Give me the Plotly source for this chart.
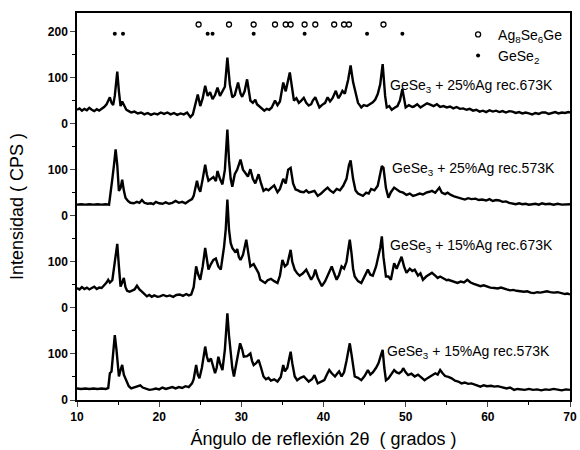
import plotly.graph_objects as go

# ---------------- data (2theta in degrees, intensity in CPS) ----------------
x_25_673 = [10.0,10.3,10.6,10.9,11.2,11.5,11.8,12.1,12.4,12.7,13.0,13.3,13.6,13.8,14.0,14.2,14.4,14.6,14.9,15.1,15.3,15.5,15.7,16.0,16.3,16.6,17.0,17.4,17.8,18.2,18.6,19.0,19.4,19.8,20.2,20.6,21.0,21.4,21.8,22.2,22.6,23.0,23.4,23.8,24.1,24.4,24.7,25.0,25.3,25.6,25.9,26.2,26.5,26.8,27.1,27.4,27.7,28.0,28.3,28.6,28.9,29.2,29.6,29.9,30.1,30.4,30.7,30.9,31.1,31.4,31.7,31.9,32.2,32.5,32.8,33.1,33.4,33.7,34.1,34.4,34.7,35.1,35.4,35.9,36.2,36.4,36.7,37.0,37.3,37.6,37.9,38.2,38.5,38.7,39.0,39.3,39.5,39.8,40.2,40.5,40.8,41.1,41.5,41.8,42.0,42.3,42.6,43.0,43.3,43.6,43.9,44.2,44.6,44.9,45.3,45.7,46.0,46.3,46.6,46.9,47.2,47.5,47.7,48.0,48.3,48.7,49.0,49.3,49.6,49.8,50.0,50.4,50.8,51.0,51.4,51.8,52.2,52.6,53.0,53.4,53.8,54.2,54.6,55.0,55.4,55.8,56.2,56.6,57.0,57.4,57.8,58.2,58.6,59.0,59.4,59.8,60.2,60.6,61.0,61.4,61.8,62.2,62.6,63.0,63.4,63.8,64.2,64.6,65.0,65.4,65.8,66.2,66.6,67.0,67.4,67.8,68.2,68.6,69.0,69.4,69.8,70.0]
y_25_673 = [30,33,28,32,29,34,30,27,31,28,32,36,42,50,57,45,40,60,113,70,38,48,42,30,27,24,26,22,24,20,23,19,22,20,24,21,24,20,23,19,22,20,24,14,20,40,63,38,55,82,60,68,53,62,78,60,70,80,143,85,57,62,89,65,58,70,96,70,50,45,52,42,38,33,28,32,30,35,50,40,48,89,70,111,70,50,55,45,50,56,45,39,42,50,57,45,35,40,45,57,48,55,71,55,60,71,65,95,126,90,64,45,35,40,38,42,46,52,64,85,129,60,35,38,30,35,38,50,75,55,35,40,36,37,42,35,40,44,41,38,42,36,38,35,37,33,36,32,33,30,32,28,30,26,28,25,29,26,28,25,27,24,27,26,23,25,22,24,22,20,23,21,24,24,21,23,25,22,24,23,25,24]

x_25_573 = [10.0,10.5,11.0,11.5,12.0,12.5,13.0,13.5,13.9,14.1,14.3,14.5,14.7,14.9,15.1,15.3,15.5,15.7,15.9,16.2,16.5,16.9,17.3,17.6,17.9,18.2,18.6,19.0,19.3,19.6,20.0,20.4,20.8,21.2,21.6,22.0,22.4,22.8,23.2,23.6,24.0,24.2,24.6,24.8,25.0,25.3,25.6,25.8,26.0,26.3,26.6,26.9,27.1,27.4,27.7,28.0,28.3,28.5,28.7,28.9,29.2,29.5,29.9,30.2,30.5,30.8,31.1,31.4,31.7,32.1,32.4,32.7,33.0,33.3,33.6,34.0,34.4,34.7,35.1,35.4,35.7,36.0,36.3,36.6,36.9,37.2,37.6,37.9,38.2,38.6,38.9,39.3,39.7,40.1,40.5,40.8,41.2,41.6,42.0,42.4,42.8,43.1,43.3,43.6,43.9,44.2,44.8,45.2,45.5,45.8,46.2,46.6,46.9,47.1,47.3,47.6,47.9,48.2,48.6,49.0,49.3,49.7,50.1,50.5,50.9,51.3,51.7,52.1,52.5,52.9,53.2,53.6,54.1,54.4,54.8,55.1,55.5,55.9,56.3,56.8,57.2,57.6,58.0,58.5,58.9,59.3,59.8,60.2,60.6,61.0,61.4,61.8,62.2,62.6,63.0,63.4,63.8,64.2,64.6,65.0,65.4,65.8,66.2,66.6,67.0,67.5,68.0,68.5,69.0,69.5,70.0]
y_25_573 = [24,25,24,25,24,25,24,25,24,60,80,110,144,110,54,60,78,55,39,32,28,27,30,28,34,28,26,27,25,30,27,26,29,26,28,32,28,30,27,32,36,43,76,60,52,80,111,90,76,80,84,75,97,80,68,100,187,120,80,63,90,100,122,100,93,85,101,80,70,90,70,54,58,55,60,66,51,58,80,70,100,104,70,57,55,52,51,55,50,52,54,43,48,55,61,55,50,58,55,65,80,110,120,80,55,48,43,50,48,58,55,65,90,108,104,60,39,51,61,55,52,50,45,48,43,45,48,46,50,52,54,50,61,50,47,50,45,42,40,38,35,38,36,37,34,35,33,36,32,34,33,30,31,28,27,25,27,25,26,24,25,26,24,27,25,26,24,26,24,25,25]

x_15_673 = [10.0,10.3,10.6,10.9,11.2,11.5,11.8,12.1,12.4,12.7,13.0,13.3,13.6,13.8,14.0,14.3,14.6,14.9,15.1,15.3,15.5,15.7,15.9,16.1,16.4,16.7,17.0,17.3,17.6,17.9,18.2,18.5,18.8,19.1,19.4,19.8,20.1,20.5,20.9,21.3,21.7,22.1,22.5,22.9,23.3,23.6,23.9,24.2,24.5,24.7,25.0,25.3,25.6,25.8,26.0,26.3,26.6,26.9,27.2,27.5,27.9,28.1,28.3,28.5,28.7,28.9,29.1,29.3,29.5,29.7,29.9,30.2,30.6,30.9,31.1,31.5,31.9,32.1,32.3,32.6,32.9,33.2,33.6,34.0,34.4,34.7,35.0,35.3,35.6,36.0,36.2,36.5,36.8,37.1,37.5,37.9,38.2,38.5,38.8,39.0,39.3,39.6,39.8,40.2,40.6,41.0,41.3,41.6,41.9,42.2,42.5,42.8,43.0,43.2,43.4,43.6,43.8,44.2,44.6,45.0,45.4,45.7,46.0,46.4,46.7,46.9,47.1,47.3,47.6,47.9,48.2,48.6,48.9,49.2,49.5,49.8,50.1,50.5,50.8,51.1,51.5,51.8,52.1,52.5,52.9,53.2,53.6,53.9,54.2,54.6,55.0,55.2,55.6,56.0,56.3,56.7,57.1,57.5,57.9,58.3,58.7,59.1,59.5,59.9,60.3,60.8,61.2,61.6,62.0,62.3,62.7,63.1,63.5,64.0,64.4,64.8,65.2,65.6,66.0,66.4,66.8,67.2,67.6,68.0,68.5,68.9,69.4,69.7,70.0]
y_15_673 = [43,40,45,41,44,40,43,46,41,44,43,48,55,61,55,60,100,139,90,46,55,65,45,37,35,38,40,48,40,35,30,25,28,24,27,24,25,28,25,27,24,28,29,26,30,27,29,45,90,75,61,90,130,100,83,95,104,107,90,83,133,170,235,170,141,130,125,120,128,110,104,115,148,110,90,95,83,75,61,58,54,60,63,58,54,70,104,90,95,126,100,83,75,70,75,83,72,61,70,83,65,52,47,58,76,90,75,61,72,90,85,100,125,148,120,85,68,58,54,68,83,72,70,90,111,130,155,110,68,68,61,97,85,100,111,90,76,85,80,83,70,75,61,68,72,76,70,65,68,64,60,61,58,56,54,57,55,61,55,52,50,47,49,46,44,43,42,44,41,40,38,39,37,36,35,36,33,32,34,33,35,36,34,33,34,32,30,31,29]

x_15_573 = [10.0,10.5,11.0,11.5,12.0,12.5,13.0,13.5,13.8,13.9,14.0,14.2,14.4,14.6,14.8,15.0,15.1,15.3,15.5,15.7,16.0,16.3,16.6,17.0,17.4,17.7,18.0,18.4,18.8,19.2,19.6,20.0,20.4,20.8,21.2,21.6,22.0,22.4,22.8,23.2,23.6,24.0,24.2,24.5,24.7,24.9,25.2,25.6,25.8,26.0,26.3,26.5,26.8,27.0,27.2,27.4,27.7,28.0,28.3,28.5,28.7,28.9,29.1,29.4,29.6,29.85,30.1,30.3,30.7,31.1,31.3,31.5,31.8,32.1,32.4,32.7,33.0,33.3,33.6,34.0,34.4,34.8,35.1,35.3,35.6,36.0,36.2,36.5,36.8,37.2,37.6,37.9,38.2,38.6,38.9,39.3,39.7,40.1,40.4,40.7,41.0,41.4,41.7,41.9,42.2,42.5,42.8,43.0,43.2,43.4,43.6,43.8,44.2,44.6,45.0,45.4,45.7,46.0,46.4,46.7,47.0,47.2,47.4,47.6,47.9,48.2,48.6,48.9,49.2,49.5,49.7,50.0,50.3,50.7,51.1,51.5,51.9,52.3,52.7,53.2,53.6,53.9,54.2,54.5,54.8,55.2,55.6,56.0,56.4,56.8,57.2,57.6,58.0,58.5,59.1,59.5,59.9,60.4,60.8,61.2,61.7,62.3,62.7,63.2,63.6,64.0,64.5,65.0,65.5,66.0,66.5,67.0,67.5,68.0,68.5,69.0,69.5,70.0]
y_15_573 = [25,24,25,24,25,24,25,24,26,45,58,62,100,141,110,60,51,65,76,55,43,30,25,27,30,32,27,24,22,23,25,23,27,24,26,28,25,28,26,30,28,36,45,76,55,47,70,116,95,83,90,75,58,70,94,80,65,110,188,140,101,70,51,80,100,123,110,94,95,101,85,76,80,87,70,51,45,48,42,45,40,50,76,62,70,105,80,51,43,48,51,46,40,45,54,36,40,43,55,65,58,51,58,62,51,60,85,105,123,100,70,51,48,43,52,65,55,60,70,80,98,109,70,43,47,55,65,60,58,62,69,60,54,57,51,55,48,43,48,54,58,55,65,58,52,50,47,42,40,36,38,35,36,33,29,32,30,31,29,30,27,25,27,22,24,23,22,24,22,23,21,23,22,24,22,21,23,22]

series_labels = ["GeSe<sub>3</sub> + 25%Ag rec.673K", "GeSe<sub>3</sub> + 25%Ag rec.573K",
                 "GeSe<sub>3</sub> + 15%Ag rec.673K", "GeSe<sub>3</sub> + 15%Ag rec.573K"]
series_offsets = [600, 400, 200, 0]

ag8se6ge_peaks = [24.8, 28.5, 31.5, 34.1, 35.4, 36.0, 37.7, 39.0, 41.3, 42.5, 43.1, 47.3]
gese2_peaks = [14.6, 15.6, 25.9, 26.5, 31.5, 37.7, 45.3, 49.6]

tick_vals = [0, 100, 200, 300, 400, 500, 600, 700, 800]
tick_text = ["0", "100", "0", "100", "0", "100", "0", "100", "200"]
x_ticks = [10, 20, 30, 40, 50, 60, 70]

# ---------------- figure ----------------
FONT = "Liberation Sans, Arial, sans-serif"
fig = go.Figure()

series = [(x_25_673, y_25_673), (x_25_573, y_25_573), (x_15_673, y_15_673), (x_15_573, y_15_573)]
for (xs, ys), off in zip(series, series_offsets):
    fig.add_trace(go.Scatter(x=xs, y=[v + off for v in ys], mode="lines",
                             line=dict(color="black", width=2.4), showlegend=False,
                             hoverinfo="skip"))

fig.add_trace(go.Scatter(x=ag8se6ge_peaks, y=[815] * len(ag8se6ge_peaks), mode="markers",
                         name="Ag<sub>8</sub>Se<sub>6</sub>Ge",
                         marker=dict(symbol="circle-open", size=5, color="black",
                                     line=dict(width=1.3, color="black"))))
fig.add_trace(go.Scatter(x=gese2_peaks, y=[795] * len(gese2_peaks), mode="markers",
                         name="GeSe<sub>2</sub>",
                         marker=dict(symbol="circle", size=4, color="black")))

label_pos = [(47.9, 682), (48.1, 502), (47.9, 334), (47.5, 105)]
for txt, (lx, ly) in zip(series_labels, label_pos):
    fig.add_annotation(x=lx, y=ly, text=txt, showarrow=False, xanchor="left", yanchor="middle",
                       font=dict(family=FONT, size=14, color="black"))

fig.update_layout(
    width=580, height=450,
    margin=dict(l=77, r=10, t=13, b=50),
    paper_bgcolor="white", plot_bgcolor="white",
    font=dict(family=FONT, color="black"),
    showlegend=True,
    legend=dict(x=0.773, y=0.985, xanchor="left", yanchor="top", bgcolor="rgba(0,0,0,0)",
                font=dict(family=FONT, size=14, color="black"), itemwidth=30,
                tracegroupgap=0),
)
fig.update_xaxes(range=[10, 70], tickvals=x_ticks, ticks="outside", ticklen=5, tickwidth=1.3,
                 showline=True, linecolor="black", linewidth=1.5, mirror=True, showgrid=False,
                 zeroline=False, automargin=False,
                 tickfont=dict(family=FONT, size=12, color="black", weight="bold"),
                 minor=dict(dtick=5, tick0=10, ticks="outside", ticklen=3, tickwidth=1, tickcolor="black"),
                 title=dict(text="Ángulo de reflexión 2θ  ( grados )",
                            font=dict(family=FONT, size=18, color="black"), standoff=9))
fig.update_yaxes(range=[0, 840], tickvals=tick_vals, ticktext=tick_text, ticks="outside",
                 ticklen=5, tickwidth=1.3, showline=True, linecolor="black", linewidth=1.5,
                 mirror=True, showgrid=False, zeroline=False, automargin=False,
                 tickfont=dict(family=FONT, size=12, color="black", weight="bold"),
                 minor=dict(dtick=50, tick0=0, ticks="outside", ticklen=3, tickwidth=1, tickcolor="black"),
                 title=dict(text="Intensidad ( CPS )",
                            font=dict(family=FONT, size=18, color="black"), standoff=20))

fig.write_html("out.html", config={"displayModeBar": False},
               post_script="document.body.style.margin='0';")
